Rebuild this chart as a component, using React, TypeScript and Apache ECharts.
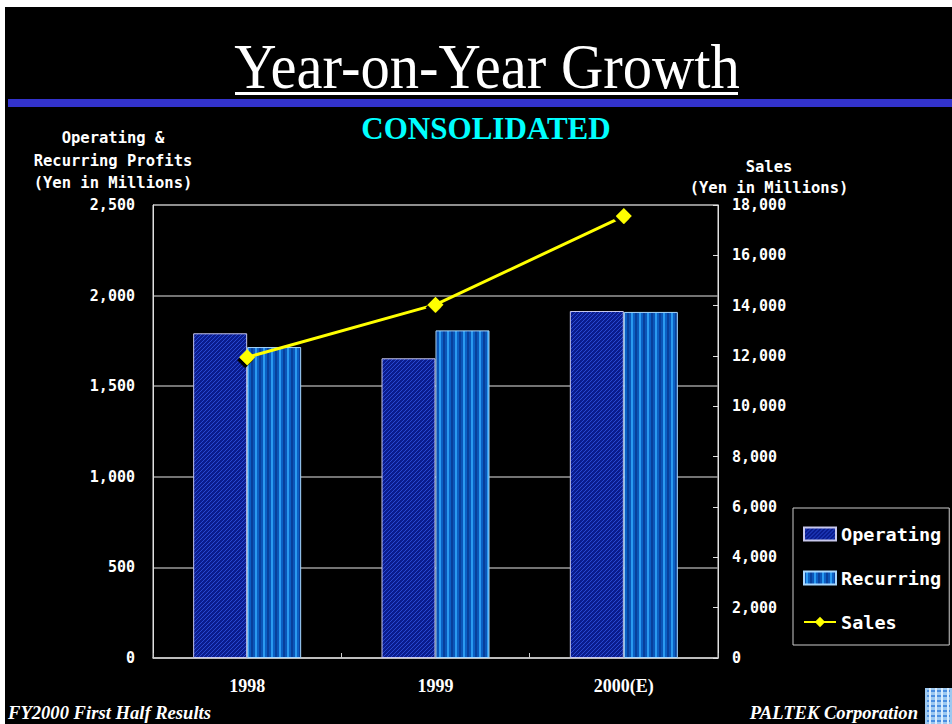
import React, { useEffect, useRef } from "react";
import * as echarts from "echarts";

const categories = ["1998", "1999", "2000(E)"];
const operating = [1792, 1654, 1915];
const recurring = [1716, 1808, 1910];
const sales = [11950, 14040, 17560];
const leftTicks = { min: 0, max: 2500, interval: 500 };
const rightTicks = { min: 0, max: 18000, interval: 2000 };

function makePattern(draw: (ctx: CanvasRenderingContext2D) => void, w: number, h: number): string {
  const c = document.createElement("canvas");
  c.width = w;
  c.height = h;
  const ctx = c.getContext("2d")!;
  draw(ctx);
  return c.toDataURL();
}

export default function App() {
  const ref = useRef<HTMLDivElement>(null);
  useEffect(() => {
    if (!ref.current) return;
    const chart = echarts.init(ref.current, undefined, { renderer: "svg" });

    const opImg = makePattern((ctx) => {
      ctx.fillStyle = "#0a1c8e";
      ctx.fillRect(0, 0, 4, 4);
      ctx.fillStyle = "#2848d0";
      for (let i = 0; i < 4; i++) ctx.fillRect(3 - i, i, 1, 1);
    }, 4, 4);
    const recImg = makePattern((ctx) => {
      const cols = ["#0b56b8", "#2a9af0", "#0b60c4", "#08409c"];
      cols.forEach((c, i) => {
        ctx.fillStyle = c;
        ctx.fillRect(i * 2, 0, 2, 4);
      });
    }, 8, 4);
    const logoImg = makePattern((ctx) => {
      ctx.fillStyle = "#9cc8f0";
      ctx.fillRect(0, 0, 27, 36);
      ctx.fillStyle = "#4a8ee0";
      for (let y = 2; y < 36; y += 5) ctx.fillRect(2, y, 23, 2);
      ctx.fillStyle = "#d8ecff";
      for (let x = 4; x < 27; x += 6) ctx.fillRect(x, 0, 2, 36);
    }, 27, 36);

    const monoFont = "DejaVu Sans Mono";
    const fmt = (v: number) => v.toLocaleString("en-US");

    chart.setOption({
      animation: false,
      backgroundColor: "#000000",
      grid: {
        left: 148,
        right: 234,
        top: 198,
        bottom: 66,
        show: true,
        borderColor: "#e0e0e0",
        borderWidth: 1,
        backgroundColor: "transparent",
      },
      legend: {
        orient: "vertical",
        left: 788,
        top: 501,
        itemWidth: 32,
        itemHeight: 13,
        itemGap: 24,
        padding: [16, 8, 13, 10],
        borderColor: "#cccccc",
        borderWidth: 1,
        backgroundColor: "#000000",
        textStyle: {
          color: "#ffffff",
          fontFamily: monoFont,
          fontWeight: "bold",
          fontSize: 18.5,
          lineHeight: 20,
        },
        data: [
          { name: "Operating", icon: "rect" },
          { name: "Recurring", icon: "rect" },
          { name: "Sales" },
        ],
      },
      xAxis: {
        type: "category",
        data: categories,
        axisLine: { lineStyle: { color: "#cccccc", width: 1.5 } },
        axisTick: { show: true, inside: true, length: 5, lineStyle: { color: "#cccccc" } },
        axisLabel: {
          color: "#ffffff",
          fontFamily: "Liberation Serif",
          fontWeight: "bold",
          fontSize: 18,
          margin: 19,
        },
      },
      yAxis: [
        {
          type: "value",
          ...leftTicks,
          position: "left",
          axisLine: { show: true, lineStyle: { color: "#e0e0e0" } },
          axisTick: { show: false },
          splitLine: { show: true, lineStyle: { color: "#9a9a9a", width: 1.5 } },
          axisLabel: {
            color: "#ffffff",
            fontFamily: monoFont,
            fontWeight: "bold",
            fontSize: 15,
            margin: 18,
            formatter: fmt,
          },
        },
        {
          type: "value",
          ...rightTicks,
          position: "right",
          axisLine: { show: true, lineStyle: { color: "#e0e0e0" } },
          axisTick: { show: true, inside: true, length: 5, lineStyle: { color: "#e0e0e0" } },
          splitLine: { show: false },
          axisLabel: {
            color: "#ffffff",
            fontFamily: monoFont,
            fontWeight: "bold",
            fontSize: 15,
            margin: 14,
            formatter: fmt,
          },
        },
      ],
      series: [
        {
          name: "Operating",
          type: "bar",
          data: operating,
          barWidth: 54,
          barGap: "0%",
          itemStyle: {
            color: { image: opImg, repeat: "repeat" },
            borderColor: "#c8c8ec",
            borderWidth: 1,
          },
        },
        {
          name: "Recurring",
          type: "bar",
          data: recurring,
          barWidth: 54,
          barGap: "0%",
          itemStyle: {
            color: { image: recImg, repeat: "repeat" },
            borderColor: "#a8d8ff",
            borderWidth: 1,
          },
        },
        {
          name: "Sales",
          type: "line",
          yAxisIndex: 1,
          data: sales,
          symbol: "diamond",
          symbolSize: 16,
          lineStyle: { color: "#ffff00", width: 3 },
          itemStyle: {
            color: "#ffff00",
            shadowColor: "#000000",
            shadowBlur: 0,
            shadowOffsetX: -2,
            shadowOffsetY: 3,
          },
          z: 5,
        },
      ],
      graphic: [
        {
          type: "text",
          x: 482,
          y: 59,
          scaleX: 0.915,
          style: {
            text: "Year-on-Year Growth",
            x: 0,
            y: 0,
            align: "center",
            verticalAlign: "middle",
            fill: "#ffffff",
            fontFamily: "Liberation Serif",
            fontSize: 64,
          },
        },
        {
          type: "rect",
          shape: { x: 230, y: 85, width: 503, height: 3 },
          style: { fill: "#ffffff" },
        },
        {
          type: "rect",
          shape: { x: 3, y: 92, width: 960, height: 8 },
          style: { fill: "#3333cc" },
        },
        {
          type: "text",
          x: 481,
          y: 121,
          scaleX: 0.97,
          style: {
            text: "CONSOLIDATED",
            x: 0,
            y: 0,
            align: "center",
            verticalAlign: "middle",
            fill: "#00ffff",
            fontFamily: "Liberation Serif",
            fontWeight: "bold",
            fontSize: 32,
          },
        },
        {
          type: "text",
          x: 108,
          y: 120,
          style: {
            text: "Operating &\nRecurring Profits\n(Yen in Millions)",
            align: "center",
            verticalAlign: "top",
            fill: "#ffffff",
            fontFamily: monoFont,
            fontWeight: "bold",
            fontSize: 15.5,
            lineHeight: 22.5,
          },
        },
        {
          type: "text",
          x: 764,
          y: 149,
          style: {
            text: "Sales\n(Yen in Millions)",
            align: "center",
            verticalAlign: "top",
            fill: "#ffffff",
            fontFamily: monoFont,
            fontWeight: "bold",
            fontSize: 15.5,
            lineHeight: 21,
          },
        },
        {
          type: "text",
          x: 3,
          y: 705,
          style: {
            text: "FY2000 First Half Results",
            align: "left",
            verticalAlign: "middle",
            fill: "#ffffff",
            fontFamily: "Liberation Serif",
            fontWeight: "bold",
            fontStyle: "italic",
            fontSize: 18.6,
          },
        },
        {
          type: "text",
          x: 913,
          y: 705,
          style: {
            text: "PALTEK Corporation",
            align: "right",
            verticalAlign: "middle",
            fill: "#ffffff",
            fontFamily: "Liberation Serif",
            fontWeight: "bold",
            fontStyle: "italic",
            fontSize: 18.6,
          },
        },
        {
          type: "image",
          x: 920,
          y: 681,
          style: { image: logoImg, width: 27, height: 36 },
        },
      ],
    });
    return () => chart.dispose();
  }, []);
  return (
    <div
      ref={ref}
      style={{ position: "absolute", left: 5, top: 7, width: 947, height: 717, background: "#000" }}
    />
  );
}
